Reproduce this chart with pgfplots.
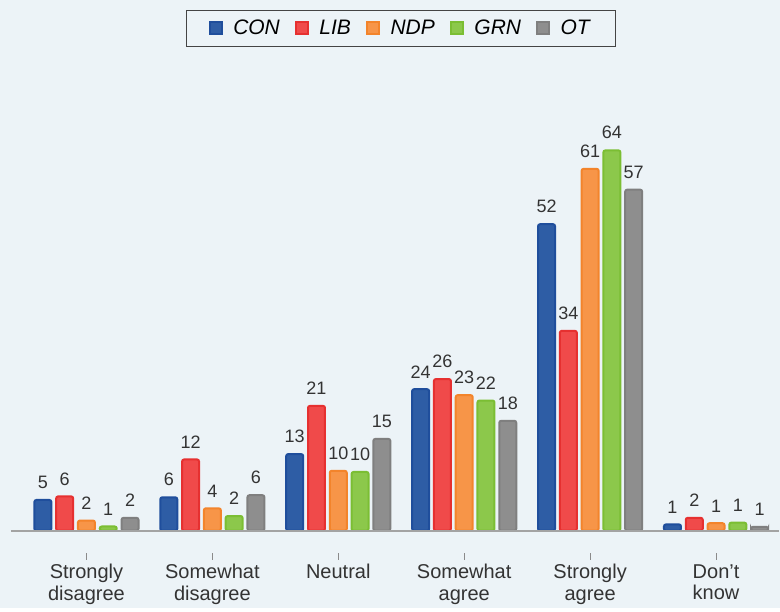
\documentclass[border=0pt]{standalone}
\usepackage{fontspec}
\setmainfont{Liberation Sans}
\usepackage{pgfplots}
\pgfplotsset{compat=1.18}
\definecolor{bg}{HTML}{ECF3F7}
\definecolor{axisgray}{HTML}{A3A3A3}
\definecolor{tickgray}{HTML}{8A8A8A}
\definecolor{labelgray}{HTML}{333333}
\definecolor{legendgray}{HTML}{444444}
\definecolor{confill}{HTML}{2E5DA5}
\definecolor{condraw}{HTML}{1F4E9C}
\definecolor{libfill}{HTML}{F04A4A}
\definecolor{libdraw}{HTML}{E63030}
\definecolor{ndpfill}{HTML}{F79548}
\definecolor{ndpdraw}{HTML}{F3842B}
\definecolor{grnfill}{HTML}{8CC84B}
\definecolor{grndraw}{HTML}{7BBE33}
\definecolor{otfill}{HTML}{8E8E8E}
\definecolor{otdraw}{HTML}{7F7F7F}
\begin{document}
\begin{tikzpicture}
\fill[bg] (0,0) rectangle (390pt,304pt);
\begin{axis}[
  at={(5.45pt,38.5pt)}, anchor=south west,
  scale only axis, width=384.3pt, height=208.6pt,
  xmin=-0.6, xmax=5.5, ymin=0, ymax=70,
  ybar=2.4pt, bar width=8.5pt,
  every axis plot post/.append style={legend image code/.code={\fill[##1, sharp corners] (0pt,-3pt) rectangle (6pt,3pt);}},
  axis x line*=bottom, axis y line=none,
  x axis line style={draw=axisgray, line width=1pt},
  xtick={0,...,5},
  xticklabels={{Strongly\\disagree},{Somewhat\\disagree},{Neutral},{Somewhat\\agree},{Strongly\\agree},{Don't\\know}},
  xticklabel style={align=center, font=\fontsize{10}{10.85}\selectfont, text=labelgray, yshift=-13.4pt},
  tick align=inside, major tick length=3.35pt,
  xtick style={draw=tickgray, line width=0.4pt, yshift=-14.5pt},
  ytick=\empty,
  axis on top,
  nodes near coords, point meta=explicit symbolic,
  every node near coord/.append style={font=\fontsize{9}{10}\selectfont, text=labelgray, inner sep=0pt, yshift=5.1pt},
  legend columns=5,
  legend style={at={(0.5082,1.2488)}, anchor=north, draw=legendgray, line width=0.6pt, fill=bg,
    inner xsep=11pt, inner ysep=2.5pt, font=\itshape\fontsize{10.5}{12}\selectfont,
    /tikz/every odd column/.append style={column sep=3.3pt},
    /tikz/every even column/.append style={column sep=5.5pt}},
]
\addplot[fill=confill, draw=condraw, line width=1pt, rounded corners=1pt] table[x=x, y=y, meta=lab] {
x y lab
0 5.15 5
1 5.6 6
2 12.85 13
3 23.75 24
4 51.45 52
5 1.05 1
};
\addlegendentry{CON}
\addplot[fill=libfill, draw=libdraw, line width=1pt, rounded corners=1pt] table[x=x, y=y, meta=lab] {
x y lab
0 5.75 6
1 11.95 12
2 20.95 21
3 25.45 26
4 33.55 34
5 2.15 2
};
\addlegendentry{LIB}
\addplot[fill=ndpfill, draw=ndpdraw, line width=1pt, rounded corners=1pt] table[x=x, y=y, meta=lab] {
x y lab
0 1.7 2
1 3.75 4
2 10.05 10
3 22.75 23
4 60.75 61
5 1.25 1
};
\addlegendentry{NDP}
\addplot[fill=grnfill, draw=grndraw, line width=1pt, rounded corners=1pt] table[x=x, y=y, meta=lab] {
x y lab
0 0.7 1
1 2.45 2
2 9.85 10
3 21.85 22
4 63.85 64
5 1.35 1
};
\addlegendentry{GRN}
\addplot[fill=otfill, draw=otdraw, line width=1pt, rounded corners=1pt] table[x=x, y=y, meta=lab] {
x y lab
0 2.15 2
1 5.95 6
2 15.4 15
3 18.45 18
4 57.25 57
5 0.65 1
};
\addlegendentry{OT}
\end{axis}
\end{tikzpicture}
\end{document}
